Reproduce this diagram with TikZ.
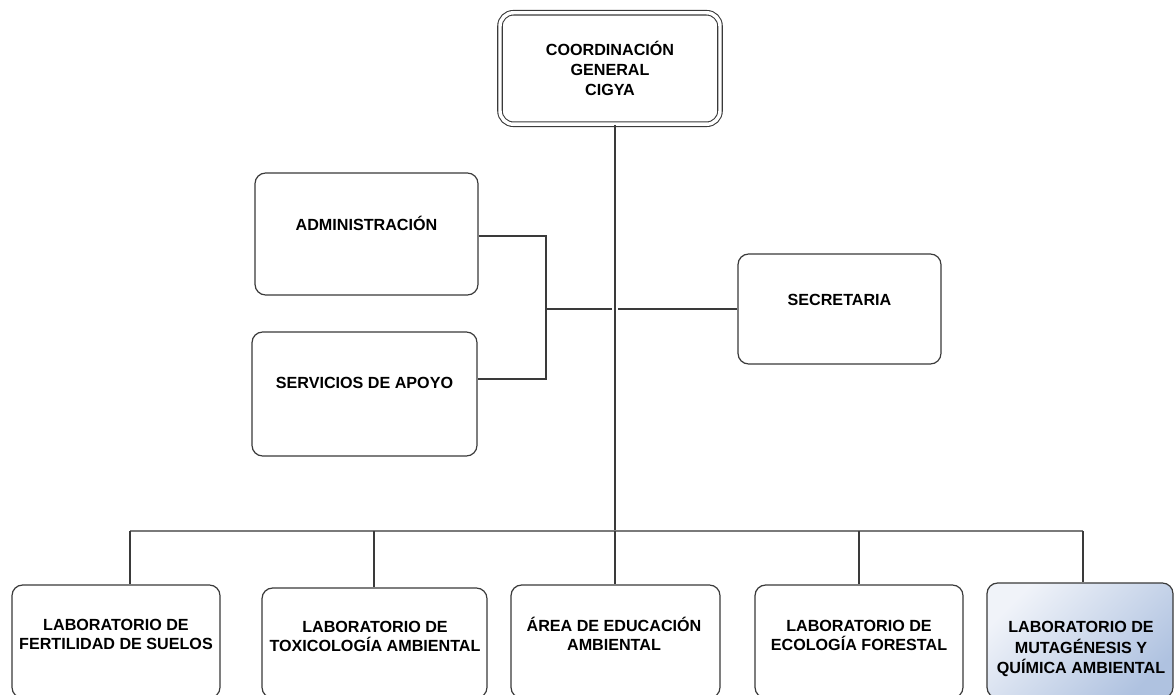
\documentclass[tikz,border=0pt]{standalone}
\usepackage{fontspec}
\setmainfont{Liberation Sans}
\usetikzlibrary{calc}
\definecolor{edge}{HTML}{3A3A3A}
\definecolor{busgray}{HTML}{7A7A7A}
\definecolor{fillA}{HTML}{F0F3F9}
\definecolor{fillB}{HTML}{AFC2E0}
\tikzset{
  box/.style={draw=edge, line width=0.9pt, rounded corners=8pt, inner sep=0pt},
  lbl/.style={font=\bfseries\fontsize{12.1}{14.3}\selectfont, align=center, inner sep=0pt},
  wire/.style={draw=edge, line width=0.8pt},
  buswire/.style={draw=busgray, line width=0.8pt}
}
\begin{document}
\begin{tikzpicture}[x=0.75pt, y=-0.75pt]
\useasboundingbox (0,0) rectangle (1174,695);
\clip (0,0) rectangle (1174,695);
\fill[white] (0,0) rectangle (1174,695);

% head office
\node[box, double, double distance=2.6pt, line width=0.8pt, rounded corners=10pt,
      minimum width=165pt, minimum height=83.6pt] (top) at (610,68.5) {};
\node[lbl, font=\bfseries\fontsize{12.1}{15}\selectfont] (toplbl) at (top.center) {COORDINACIÓN\\GENERAL\\CIGYA};

% staff units
\node[box, minimum width=167.25pt, minimum height=91.5pt] (adm) at (366.5,234) {};
\node[lbl] (admlbl) at ([yshift=8pt]adm.center) {ADMINISTRACIÓN};
\node[box, minimum width=168.75pt, minimum height=93pt] (srv) at (364.5,394) {};
\node[lbl] (srvlbl) at ([yshift=8pt]srv.center) {SERVICIOS DE APOYO};
\node[box, minimum width=152.25pt, minimum height=82.5pt] (sec) at (839.5,309) {};
\node[lbl] (seclbl) at ([yshift=7pt]sec.center) {SECRETARIA};

% laboratories
\node[box, minimum width=156pt, minimum height=84.75pt] (b1) at (116,641.5) {};
\node[lbl] (b1lbl) at (116,634) {LABORATORIO DE\\FERTILIDAD DE SUELOS};
\node[box, minimum width=168.75pt, minimum height=82.5pt] (b2) at (374.5,643) {};
\node[lbl] (b2lbl) at (375,636) {LABORATORIO DE\\TOXICOLOGÍA AMBIENTAL};
\node[box, minimum width=156.75pt, minimum height=84.75pt] (b3) at (615.5,641.5) {};
\node[lbl] (b3lbl) at (614,634) {ÁREA DE EDUCACIÓN\\AMBIENTAL};
\node[box, minimum width=156pt, minimum height=84.75pt] (b4) at (859,641.5) {};
\node[lbl] (b4lbl) at (859,635) {LABORATORIO DE\\ECOLOGÍA FORESTAL};
\node[box, top color=fillA, bottom color=fillB, shading angle=45,
      minimum width=139.5pt, minimum height=86.25pt] (b5) at (1080,640.5) {};
\node[lbl, font=\bfseries\fontsize{12.1}{15.3}\selectfont] (b5lbl) at (1081,649) {LABORATORIO DE\\MUTAGÉNESIS Y\\QUÍMICA AMBIENTAL};

% trunk and bus
\coordinate (tr) at (615,531);
\coordinate (d1) at (130,531);
\coordinate (d2) at (374,531);
\coordinate (d4) at (859,531);
\coordinate (d5) at (1083,531);
\draw[wire] (top.south -| tr) -- (tr);
\draw[buswire] (d1) -- (d5);
\draw[wire] (d1) -- (d1 |- b1.north);
\draw[wire] (d2) -- (d2 |- b2.north);
\draw[wire] (tr) -- (tr |- b3.north);
\draw[wire] (d4) -- (d4 |- b4.north);
\draw[wire] (d5) -- (d5 |- b5.north);

% staff bracket
\coordinate (bk) at (546,309);
\coordinate (gapL) at (612,309);
\coordinate (gapR) at (618,309);
\draw[wire] ([yshift=-1.5pt]adm.east) -- ([yshift=-1.5pt]adm.east -| bk)
  -- ([yshift=11.25pt]srv.east -| bk) -- ([yshift=11.25pt]srv.east);
\draw[wire] (bk) -- (gapL);
\draw[wire] (gapR) -- (sec.west);
\end{tikzpicture}
\end{document}
